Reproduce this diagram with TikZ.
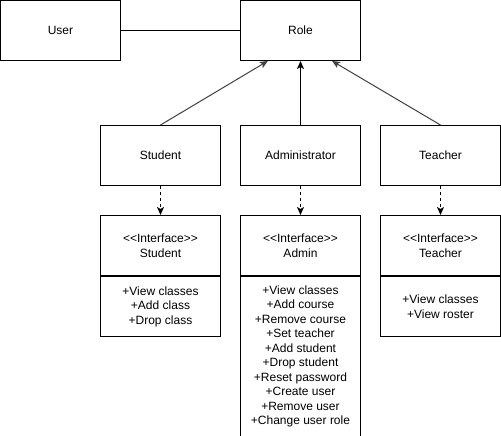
\documentclass[tikz,border=0pt]{standalone}
\usepackage{fontspec}
\setmainfont{Liberation Sans}
\usetikzlibrary{arrows.meta}

\begin{document}
\begin{tikzpicture}[x=1pt,y=-1pt,line width=1pt,
  box/.style={draw,minimum width=120pt,minimum height=60pt,inner sep=0pt,
    font=\fontsize{12}{15}\selectfont,align=center},
  opsbox/.style={box,anchor=north,font=\fontsize{12}{14.5}\selectfont},
  inherit/.style={-{Stealth[length=8pt,width=7pt,inset=2pt]},black!75},
  realize/.style={-{Stealth[length=8pt,width=7pt,inset=2pt]},dash pattern=on 3pt off 3pt}]
  %\draw[help lines] (0,0) grid[step=20pt] (501,436);
  \useasboundingbox (-0.5,-0.5) rectangle (500.5,435.5);

  \node[box] (user) at (60,30) {User};
  \node[box] (role) at (300,30) {Role};
  \draw (user) -- (role);

  \node[box] (student) at (160,155) {Student};
  \node[box] (admin) at (300,155) {Administrator};
  \node[box] (teacher) at (440,155) {Teacher};

  \draw[inherit] (student.north) -- (role.223.15);
  \draw[inherit,black] (admin.north) -- (role.south);
  \draw[inherit] (teacher.north) -- (role.316.85);

  \foreach \Name/\X/\Label in {istudent/160/Student, iadmin/300/Admin, iteacher/440/Teacher}
    {\node[box] (\Name) at (\X,245) {{<}{<}Interface{>}{>}\\\Label};}

  \node[opsbox] (ostudent) at (istudent.south) {+View classes\\+Add class\\+Drop class};
  \node[opsbox,minimum height=160pt] (oadmin) at (iadmin.south)
    {+View classes\\+Add course\\+Remove course\\+Set teacher\\+Add student\\
     +Drop student\\+Reset password\\+Create user\\+Remove user\\+Change user role};
  \node[opsbox] (oteacher) at (iteacher.south) {+View classes\\+View roster};

  \draw[realize] (student) -- (istudent);
  \draw[realize] (admin) -- (iadmin);
  \draw[realize] (teacher) -- (iteacher);
\end{tikzpicture}
\end{document}
